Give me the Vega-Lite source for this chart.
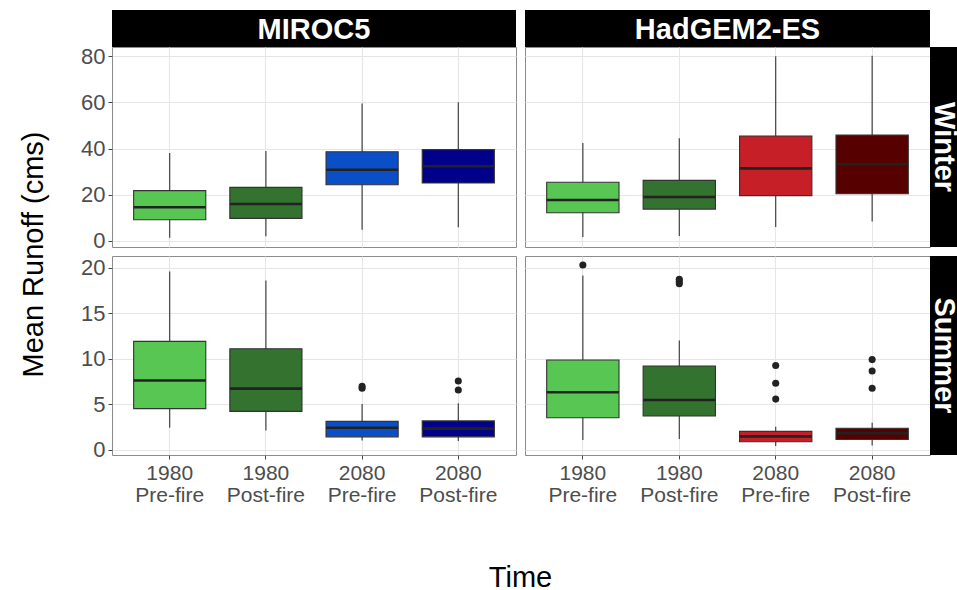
{
  "$schema": "https://vega.github.io/schema/vega-lite/v6.json",
  "padding": {"left": 18, "top": 10, "right": 0, "bottom": 0},
  "background": "white",
  "config": {
    "font": "Liberation Sans",
    "view": {"stroke": "#8c8c8c", "strokeWidth": 1},
    "axis": {"labelFont": "Liberation Sans", "titleFont": "Liberation Sans", "gridColor": "#e6e6e6", "tickColor": "#444444", "labelColor": "#4d4d4d"}
  },
  "datasets": {
    "boxes": [
      {"model": "MIROC5", "season": "Winter", "period": "1980 Pre-fire", "lower": 1.4, "q1": 9.2, "median": 14.6, "q3": 21.8, "upper": 38.1},
      {"model": "MIROC5", "season": "Winter", "period": "1980 Post-fire", "lower": 2.0, "q1": 9.8, "median": 16.0, "q3": 23.2, "upper": 38.9},
      {"model": "MIROC5", "season": "Winter", "period": "2080 Pre-fire", "lower": 4.9, "q1": 24.3, "median": 30.8, "q3": 38.6, "upper": 59.5},
      {"model": "MIROC5", "season": "Winter", "period": "2080 Post-fire", "lower": 5.9, "q1": 25.1, "median": 32.3, "q3": 39.5, "upper": 60.0},
      {"model": "HadGEM2-ES", "season": "Winter", "period": "1980 Pre-fire", "lower": 1.7, "q1": 12.2, "median": 17.7, "q3": 25.4, "upper": 42.4},
      {"model": "HadGEM2-ES", "season": "Winter", "period": "1980 Post-fire", "lower": 2.2, "q1": 13.8, "median": 19.0, "q3": 26.2, "upper": 44.4},
      {"model": "HadGEM2-ES", "season": "Winter", "period": "2080 Pre-fire", "lower": 6.1, "q1": 19.6, "median": 31.4, "q3": 45.4, "upper": 79.9},
      {"model": "HadGEM2-ES", "season": "Winter", "period": "2080 Post-fire", "lower": 8.4, "q1": 20.5, "median": 33.2, "q3": 45.8, "upper": 80.1},
      {"model": "MIROC5", "season": "Summer", "period": "1980 Pre-fire", "lower": 2.4, "q1": 4.5, "median": 7.6, "q3": 11.9, "upper": 19.6},
      {"model": "MIROC5", "season": "Summer", "period": "1980 Post-fire", "lower": 2.1, "q1": 4.2, "median": 6.7, "q3": 11.1, "upper": 18.6},
      {"model": "MIROC5", "season": "Summer", "period": "2080 Pre-fire", "lower": 1.0, "q1": 1.4, "median": 2.4, "q3": 3.1, "upper": 5.0},
      {"model": "MIROC5", "season": "Summer", "period": "2080 Post-fire", "lower": 0.95, "q1": 1.4, "median": 2.3, "q3": 3.15, "upper": 5.1},
      {"model": "HadGEM2-ES", "season": "Summer", "period": "1980 Pre-fire", "lower": 1.05, "q1": 3.5, "median": 6.3, "q3": 9.85, "upper": 19.15},
      {"model": "HadGEM2-ES", "season": "Summer", "period": "1980 Post-fire", "lower": 1.15, "q1": 3.7, "median": 5.45, "q3": 9.2, "upper": 12.0},
      {"model": "HadGEM2-ES", "season": "Summer", "period": "2080 Pre-fire", "lower": 0.4, "q1": 0.85, "median": 1.45, "q3": 2.0, "upper": 2.5},
      {"model": "HadGEM2-ES", "season": "Summer", "period": "2080 Post-fire", "lower": 0.45, "q1": 1.1, "median": 1.8, "q3": 2.35, "upper": 2.95}
    ],
    "outliers": [
      {"model": "MIROC5", "season": "Summer", "period": "2080 Pre-fire", "value": 6.75},
      {"model": "MIROC5", "season": "Summer", "period": "2080 Pre-fire", "value": 6.95},
      {"model": "MIROC5", "season": "Summer", "period": "2080 Post-fire", "value": 6.55},
      {"model": "MIROC5", "season": "Summer", "period": "2080 Post-fire", "value": 7.55},
      {"model": "HadGEM2-ES", "season": "Summer", "period": "1980 Pre-fire", "value": 20.3},
      {"model": "HadGEM2-ES", "season": "Summer", "period": "1980 Post-fire", "value": 18.25},
      {"model": "HadGEM2-ES", "season": "Summer", "period": "1980 Post-fire", "value": 18.5},
      {"model": "HadGEM2-ES", "season": "Summer", "period": "1980 Post-fire", "value": 18.75},
      {"model": "HadGEM2-ES", "season": "Summer", "period": "2080 Pre-fire", "value": 5.55},
      {"model": "HadGEM2-ES", "season": "Summer", "period": "2080 Pre-fire", "value": 7.3},
      {"model": "HadGEM2-ES", "season": "Summer", "period": "2080 Pre-fire", "value": 9.25},
      {"model": "HadGEM2-ES", "season": "Summer", "period": "2080 Post-fire", "value": 6.75},
      {"model": "HadGEM2-ES", "season": "Summer", "period": "2080 Post-fire", "value": 8.65},
      {"model": "HadGEM2-ES", "season": "Summer", "period": "2080 Post-fire", "value": 9.9}
    ],
    "gap": []
  },
  "columns": 4,
  "align": "each",
  "bounds": "flush",
  "spacing": 0,
  "resolve": {"scale": {"color": "independent"}},
  "concat": [
    {"width": 404, "height": 37, "view": {"fill": "black", "stroke": null},
     "data": {"values": [{"label": "MIROC5"}]},
     "mark": {"type": "text", "color": "white", "fontSize": 29, "fontWeight": "bold", "baseline": "middle", "align": "center", "dy": 1},
     "encoding": {"text": {"field": "label", "type": "nominal"}}},
    {"width": 9, "height": 9, "view": {"stroke": null}, "data": {"name": "gap"}, "mark": "point", "encoding": {}},
    {"width": 405, "height": 37, "view": {"fill": "black", "stroke": null},
     "data": {"values": [{"label": "HadGEM2-ES"}]},
     "mark": {"type": "text", "color": "white", "fontSize": 29, "fontWeight": "bold", "baseline": "middle", "align": "center", "dy": 1},
     "encoding": {"text": {"field": "label", "type": "nominal"}}},
    {"width": 9, "height": 9, "view": {"stroke": null}, "data": {"name": "gap"}, "mark": "point", "encoding": {}},

    {
      "width": 404, "height": 200,
      "encoding": {
        "x": {"field": "period", "type": "nominal", "sort": ["1980 Pre-fire", "1980 Post-fire", "2080 Pre-fire", "2080 Post-fire"],
              "scale": {"paddingInner": 0.25, "paddingOuter": 0.225},
              "axis": {"grid": true, "gridWidth": 1.1, "bandPosition": 0.5, "labels": false, "ticks": false, "domain": false, "title": null}}
      },
      "layer": [
        {"data": {"name": "boxes"}, "transform": [{"filter": "datum.model === 'MIROC5' && datum.season === 'Winter'"}],
         "mark": {"type": "rule", "color": "#333333", "strokeWidth": 1.1},
         "encoding": {
           "y": {"field": "lower", "type": "quantitative", "scale": {"domain": [-2.6, 83.9], "nice": false, "zero": false},
                 "axis": {"values": [0, 10, 20, 30, 40, 50, 60, 70, 80], "labelExpr": "datum.value % 20 === 0 ? format(datum.value, 'd') : ''",
                          "labelOverlap": false, "labelFlush": false, "labelFontSize": 22, "labelPadding": 3, "tickSize": 4,
                          "tickOpacity": {"condition": {"test": "datum.value % 20 === 0", "value": 1}, "value": 0},
                          "grid": true, "gridWidth": {"condition": {"test": "datum.value % 20 === 0", "value": 1.1}, "value": 0.6},
                          "domain": false, "title": "Mean Runoff (cms)", "titleFontSize": 29, "titleFontWeight": "normal", "titleColor": "black",
                          "titleX": -64, "titleY": 207, "titleAngle": -90, "titleAlign": "center", "titleBaseline": "bottom"}},
           "y2": {"field": "upper"}}},
        {"data": {"name": "boxes"}, "transform": [{"filter": "datum.model === 'MIROC5' && datum.season === 'Winter'"}],
         "mark": {"type": "bar", "stroke": "#333333", "strokeWidth": 1.1},
         "encoding": {
           "y": {"field": "q1", "type": "quantitative", "scale": {"domain": [-2.6, 83.9], "nice": false, "zero": false}},
           "y2": {"field": "q3"},
           "color": {"field": "period", "type": "nominal", "legend": null,
                     "scale": {"domain": ["1980 Pre-fire", "1980 Post-fire", "2080 Pre-fire", "2080 Post-fire"], "range": ["#58C652", "#33722F", "#0A4FC8", "#00008B"]}}}},
        {"data": {"name": "boxes"}, "transform": [{"filter": "datum.model === 'MIROC5' && datum.season === 'Winter'"}],
         "mark": {"type": "tick", "color": "#222222", "size": 72, "thickness": 2.6, "opacity": 1},
         "encoding": {"y": {"field": "median", "type": "quantitative", "scale": {"domain": [-2.6, 83.9], "nice": false, "zero": false}}}}
      ]
    },
    {"width": 9, "height": 9, "view": {"stroke": null}, "data": {"name": "gap"}, "mark": "point", "encoding": {}},
    {
      "width": 405, "height": 200,
      "encoding": {
        "x": {"field": "period", "type": "nominal", "sort": ["1980 Pre-fire", "1980 Post-fire", "2080 Pre-fire", "2080 Post-fire"],
              "scale": {"paddingInner": 0.25, "paddingOuter": 0.225},
              "axis": {"grid": true, "gridWidth": 1.1, "bandPosition": 0.5, "labels": false, "ticks": false, "domain": false, "title": null}}
      },
      "layer": [
        {"data": {"name": "boxes"}, "transform": [{"filter": "datum.model === 'HadGEM2-ES' && datum.season === 'Winter'"}],
         "mark": {"type": "rule", "color": "#333333", "strokeWidth": 1.1},
         "encoding": {
           "y": {"field": "lower", "type": "quantitative", "scale": {"domain": [-2.6, 83.9], "nice": false, "zero": false},
                 "axis": {"values": [0, 10, 20, 30, 40, 50, 60, 70, 80], "labels": false, "ticks": false, "domain": false, "title": null,
                          "grid": true, "gridWidth": {"condition": {"test": "datum.value % 20 === 0", "value": 1.1}, "value": 0.6}}},
           "y2": {"field": "upper"}}},
        {"data": {"name": "boxes"}, "transform": [{"filter": "datum.model === 'HadGEM2-ES' && datum.season === 'Winter'"}],
         "mark": {"type": "bar", "stroke": "#333333", "strokeWidth": 1.1},
         "encoding": {
           "y": {"field": "q1", "type": "quantitative", "scale": {"domain": [-2.6, 83.9], "nice": false, "zero": false}},
           "y2": {"field": "q3"},
           "color": {"field": "period", "type": "nominal", "legend": null,
                     "scale": {"domain": ["1980 Pre-fire", "1980 Post-fire", "2080 Pre-fire", "2080 Post-fire"], "range": ["#58C652", "#33722F", "#C61F28", "#560000"]}}}},
        {"data": {"name": "boxes"}, "transform": [{"filter": "datum.model === 'HadGEM2-ES' && datum.season === 'Winter'"}],
         "mark": {"type": "tick", "color": "#222222", "size": 72, "thickness": 2.6, "opacity": 1},
         "encoding": {"y": {"field": "median", "type": "quantitative", "scale": {"domain": [-2.6, 83.9], "nice": false, "zero": false}}}}
      ]
    },
    {"width": 28, "height": 200, "view": {"fill": "black", "stroke": null},
     "data": {"values": [{"label": "Winter"}]},
     "mark": {"type": "text", "color": "white", "fontSize": 29, "fontWeight": "bold", "baseline": "middle", "align": "center", "angle": 90},
     "encoding": {"text": {"field": "label", "type": "nominal"}}},

    {"width": 9, "height": 9, "view": {"stroke": null}, "data": {"name": "gap"}, "mark": "point", "encoding": {}},
    {"width": 9, "height": 9, "view": {"stroke": null}, "data": {"name": "gap"}, "mark": "point", "encoding": {}},
    {"width": 9, "height": 9, "view": {"stroke": null}, "data": {"name": "gap"}, "mark": "point", "encoding": {}},
    {"width": 9, "height": 9, "view": {"stroke": null}, "data": {"name": "gap"}, "mark": "point", "encoding": {}},

    {
      "width": 404, "height": 199,
      "encoding": {
        "x": {"field": "period", "type": "nominal", "sort": ["1980 Pre-fire", "1980 Post-fire", "2080 Pre-fire", "2080 Post-fire"],
              "scale": {"paddingInner": 0.25, "paddingOuter": 0.225},
              "axis": {"grid": true, "gridWidth": 1.1, "bandPosition": 0.5, "domain": false, "labelAngle": 0, "labelFontSize": 21,
                       "labelExpr": "split(datum.label, ' ')", "labelLineHeight": 22, "labelPadding": 3, "labelBaseline": "top", "tickSize": 4,
                       "title": "Time", "titleFontSize": 29, "titleFontWeight": "normal", "titleColor": "black",
                       "titleX": 408, "titleY": 131, "titleAlign": "center", "titleBaseline": "alphabetic"}}
      },
      "layer": [
        {"data": {"name": "boxes"}, "transform": [{"filter": "datum.model === 'MIROC5' && datum.season === 'Summer'"}],
         "mark": {"type": "rule", "color": "#333333", "strokeWidth": 1.1},
         "encoding": {
           "y": {"field": "lower", "type": "quantitative", "scale": {"domain": [-0.6, 21.3], "nice": false, "zero": false},
                 "axis": {"values": [0, 2.5, 5, 7.5, 10, 12.5, 15, 17.5, 20], "labelExpr": "datum.value % 5 === 0 ? format(datum.value, 'd') : ''",
                          "labelOverlap": false, "labelFlush": false, "labelFontSize": 22, "labelPadding": 3, "tickSize": 4,
                          "tickOpacity": {"condition": {"test": "datum.value % 5 === 0", "value": 1}, "value": 0},
                          "grid": true, "gridWidth": {"condition": {"test": "datum.value % 5 === 0", "value": 1.1}, "value": 0.6},
                          "domain": false, "title": null}},
           "y2": {"field": "upper"}}},
        {"data": {"name": "boxes"}, "transform": [{"filter": "datum.model === 'MIROC5' && datum.season === 'Summer'"}],
         "mark": {"type": "bar", "stroke": "#333333", "strokeWidth": 1.1},
         "encoding": {
           "y": {"field": "q1", "type": "quantitative", "scale": {"domain": [-0.6, 21.3], "nice": false, "zero": false}},
           "y2": {"field": "q3"},
           "color": {"field": "period", "type": "nominal", "legend": null,
                     "scale": {"domain": ["1980 Pre-fire", "1980 Post-fire", "2080 Pre-fire", "2080 Post-fire"], "range": ["#58C652", "#33722F", "#0A4FC8", "#00008B"]}}}},
        {"data": {"name": "boxes"}, "transform": [{"filter": "datum.model === 'MIROC5' && datum.season === 'Summer'"}],
         "mark": {"type": "tick", "color": "#222222", "size": 72, "thickness": 2.6, "opacity": 1},
         "encoding": {"y": {"field": "median", "type": "quantitative", "scale": {"domain": [-0.6, 21.3], "nice": false, "zero": false}}}},
        {"data": {"name": "outliers"}, "transform": [{"filter": "datum.model === 'MIROC5' && datum.season === 'Summer'"}],
         "mark": {"type": "circle", "color": "#222222", "size": 50, "opacity": 1},
         "encoding": {"y": {"field": "value", "type": "quantitative", "scale": {"domain": [-0.6, 21.3], "nice": false, "zero": false}}}}
      ]
    },
    {"width": 9, "height": 9, "view": {"stroke": null}, "data": {"name": "gap"}, "mark": "point", "encoding": {}},
    {
      "width": 405, "height": 199,
      "encoding": {
        "x": {"field": "period", "type": "nominal", "sort": ["1980 Pre-fire", "1980 Post-fire", "2080 Pre-fire", "2080 Post-fire"],
              "scale": {"paddingInner": 0.25, "paddingOuter": 0.225},
              "axis": {"grid": true, "gridWidth": 1.1, "bandPosition": 0.5, "domain": false, "labelAngle": 0, "labelFontSize": 21,
                       "labelExpr": "split(datum.label, ' ')", "labelLineHeight": 22, "labelPadding": 3, "labelBaseline": "top", "tickSize": 4,
                       "title": null}}
      },
      "layer": [
        {"data": {"name": "boxes"}, "transform": [{"filter": "datum.model === 'HadGEM2-ES' && datum.season === 'Summer'"}],
         "mark": {"type": "rule", "color": "#333333", "strokeWidth": 1.1},
         "encoding": {
           "y": {"field": "lower", "type": "quantitative", "scale": {"domain": [-0.6, 21.3], "nice": false, "zero": false},
                 "axis": {"values": [0, 2.5, 5, 7.5, 10, 12.5, 15, 17.5, 20], "labels": false, "ticks": false, "domain": false, "title": null,
                          "grid": true, "gridWidth": {"condition": {"test": "datum.value % 5 === 0", "value": 1.1}, "value": 0.6}}},
           "y2": {"field": "upper"}}},
        {"data": {"name": "boxes"}, "transform": [{"filter": "datum.model === 'HadGEM2-ES' && datum.season === 'Summer'"}],
         "mark": {"type": "bar", "stroke": "#333333", "strokeWidth": 1.1},
         "encoding": {
           "y": {"field": "q1", "type": "quantitative", "scale": {"domain": [-0.6, 21.3], "nice": false, "zero": false}},
           "y2": {"field": "q3"},
           "color": {"field": "period", "type": "nominal", "legend": null,
                     "scale": {"domain": ["1980 Pre-fire", "1980 Post-fire", "2080 Pre-fire", "2080 Post-fire"], "range": ["#58C652", "#33722F", "#C61F28", "#560000"]}}}},
        {"data": {"name": "boxes"}, "transform": [{"filter": "datum.model === 'HadGEM2-ES' && datum.season === 'Summer'"}],
         "mark": {"type": "tick", "color": "#222222", "size": 72, "thickness": 2.6, "opacity": 1},
         "encoding": {"y": {"field": "median", "type": "quantitative", "scale": {"domain": [-0.6, 21.3], "nice": false, "zero": false}}}},
        {"data": {"name": "outliers"}, "transform": [{"filter": "datum.model === 'HadGEM2-ES' && datum.season === 'Summer'"}],
         "mark": {"type": "circle", "color": "#222222", "size": 50, "opacity": 1},
         "encoding": {"y": {"field": "value", "type": "quantitative", "scale": {"domain": [-0.6, 21.3], "nice": false, "zero": false}}}}
      ]
    },
    {"width": 28, "height": 199, "view": {"fill": "black", "stroke": null},
     "data": {"values": [{"label": "Summer"}]},
     "mark": {"type": "text", "color": "white", "fontSize": 29, "fontWeight": "bold", "baseline": "middle", "align": "center", "angle": 90},
     "encoding": {"text": {"field": "label", "type": "nominal"}}}
  ]
}
